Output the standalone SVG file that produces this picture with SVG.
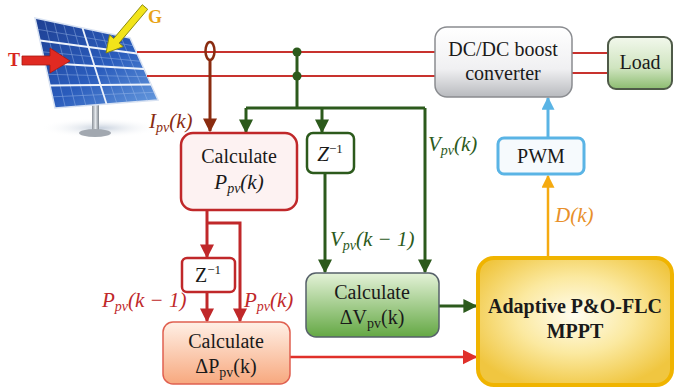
<svg xmlns="http://www.w3.org/2000/svg" width="678" height="389" viewBox="0 0 678 389">
  <defs>
    <style>
      .box { font-family: "Liberation Serif", "Times New Roman", serif; font-size: 20px; fill: #1a1a1a; text-anchor: middle; }
      .math { font-family: "Liberation Serif", "Times New Roman", serif; font-style: italic; font-size: 21px; }
      .sub { font-size: 14px; }
      .wire { fill: none; stroke: #c8322e; stroke-width: 1.8; }
      .red { fill: none; stroke: #c0282a; stroke-width: 3; }
      .green { fill: none; stroke: #2c5a1c; stroke-width: 3; }
      .brown { fill: none; stroke: #8a2c10; stroke-width: 3; }
      .cell { stroke: #a8c2ee; stroke-width: 0.6; opacity: 0.7; }
      .frame { stroke: #eef3fb; stroke-width: 1.8; }
    </style>
    <marker id="ahRed" viewBox="0 0 10 10" refX="9" refY="5" markerWidth="14" markerHeight="14" markerUnits="userSpaceOnUse" orient="auto">
      <path d="M0,0 L10,5 L0,10 z" fill="#c0282a"/>
    </marker>
    <marker id="ahRed2" viewBox="0 0 10 10" refX="9" refY="5" markerWidth="15" markerHeight="15" markerUnits="userSpaceOnUse" orient="auto">
      <path d="M0,0 L10,5 L0,10 z" fill="#e0302a"/>
    </marker>
    <marker id="ahGreen" viewBox="0 0 10 10" refX="9" refY="5" markerWidth="14" markerHeight="14" markerUnits="userSpaceOnUse" orient="auto">
      <path d="M0,0 L10,5 L0,10 z" fill="#2c5a1c"/>
    </marker>
    <marker id="ahBrown" viewBox="0 0 10 10" refX="9" refY="5" markerWidth="14" markerHeight="14" markerUnits="userSpaceOnUse" orient="auto">
      <path d="M0,0 L10,5 L0,10 z" fill="#8a2c10"/>
    </marker>
    <marker id="ahOrange" viewBox="0 0 10 10" refX="9" refY="5" markerWidth="13" markerHeight="13" markerUnits="userSpaceOnUse" orient="auto">
      <path d="M0,0 L10,5 L0,10 z" fill="#f5aa10"/>
    </marker>
    <marker id="ahBlue" viewBox="0 0 10 10" refX="9" refY="5" markerWidth="13" markerHeight="13" markerUnits="userSpaceOnUse" orient="auto">
      <path d="M0,0 L10,5 L0,10 z" fill="#5ab4e5"/>
    </marker>
    <linearGradient id="gPanel" x1="0" y1="0" x2="1" y2="1">
      <stop offset="0" stop-color="#1e3f92"/>
      <stop offset="0.55" stop-color="#2a5cbc"/>
      <stop offset="1" stop-color="#6a9ee0"/>
    </linearGradient>
    <linearGradient id="gPole" x1="0" y1="0" x2="1" y2="0">
      <stop offset="0" stop-color="#8a9098"/>
      <stop offset="0.5" stop-color="#e4e8ec"/>
      <stop offset="1" stop-color="#7d848c"/>
    </linearGradient>
    <radialGradient id="gShadow" cx="0.5" cy="0.5" r="0.5">
      <stop offset="0" stop-color="#b8c4d4" stop-opacity="0.8"/>
      <stop offset="1" stop-color="#ffffff" stop-opacity="0"/>
    </radialGradient>
    <linearGradient id="gDcdc" x1="0" y1="0" x2="0" y2="1">
      <stop offset="0" stop-color="#ffffff"/>
      <stop offset="0.6" stop-color="#f0f0f2"/>
      <stop offset="1" stop-color="#b8babe"/>
    </linearGradient>
    <linearGradient id="gLoad" x1="0" y1="0" x2="0" y2="1">
      <stop offset="0" stop-color="#f2f8ec"/>
      <stop offset="0.6" stop-color="#cfe4bf"/>
      <stop offset="1" stop-color="#8cbc70"/>
    </linearGradient>
    <linearGradient id="gDP" x1="0" y1="0" x2="0" y2="1">
      <stop offset="0" stop-color="#fff0e6"/>
      <stop offset="1" stop-color="#f7a87e"/>
    </linearGradient>
    <linearGradient id="gDV" x1="0" y1="0" x2="0" y2="1">
      <stop offset="0" stop-color="#e4f2d8"/>
      <stop offset="1" stop-color="#64a844"/>
    </linearGradient>
    <radialGradient id="gMppt" cx="0.5" cy="0.45" r="0.6">
      <stop offset="0" stop-color="#fffdf0"/>
      <stop offset="0.5" stop-color="#fbe9a0"/>
      <stop offset="1" stop-color="#f0c640"/>
    </radialGradient>
  </defs>

  <!-- PV array on its stand -->
  <g id="pv-panel">
    <ellipse cx="100" cy="128" rx="60" ry="10" fill="url(#gShadow)"/>
    <rect x="92" y="104" width="7" height="28" fill="url(#gPole)"/>
    <ellipse cx="95" cy="133" rx="16" ry="4" fill="#a2a8b0"/>
    <polygon points="35,18 130,38 158,100 55,108" fill="url(#gPanel)" stroke="#d8e2f2" stroke-width="1.5"/>
    <g class="cell">
      <line x1="44.5" y1="20" x2="65.3" y2="107.2"/>
      <line x1="54" y1="22" x2="75.6" y2="106.4"/>
      <line x1="63.5" y1="24" x2="85.9" y2="105.6"/>
      <line x1="73" y1="26" x2="96.2" y2="104.8"/>
      <line x1="92" y1="30" x2="116.8" y2="103.2"/>
      <line x1="101.5" y1="32" x2="127.1" y2="102.4"/>
      <line x1="111" y1="34" x2="137.4" y2="101.6"/>
      <line x1="120.5" y1="36" x2="147.7" y2="100.8"/>
      <line x1="37.5" y1="29.3" x2="133.5" y2="45.8"/>
      <line x1="42.5" y1="51.8" x2="140.5" y2="61.3"/>
      <line x1="47.5" y1="74.3" x2="147.5" y2="76.8"/>
      <line x1="52.5" y1="96.8" x2="154.5" y2="92.3"/>
    </g>
    <g class="frame">
      <line x1="82.5" y1="28" x2="106.5" y2="104"/>
      <line x1="40" y1="40.5" x2="137" y2="53.5"/>
      <line x1="45" y1="63" x2="144" y2="69"/>
      <line x1="50" y1="85.5" x2="151" y2="84.5"/>
    </g>
  </g>

  <!-- temperature and irradiance inputs -->
  <g id="input-T">
    <polygon points="22,56 50,56 50,48 70,61 50,73 50,65 22,65" fill="#e02a22" stroke="#a81810" stroke-width="0.8"/>
    <text x="8" y="66" font-family="Liberation Serif, serif" font-weight="bold" font-size="18" fill="#d8261e">T</text>
  </g>
  <g id="input-G">
    <polygon points="142.3,4.7 147.7,9.3 119.1,43.1 123.3,46.6 106,53 109.5,35 113.7,38.5" fill="#f2e41a" stroke="#8c8a10" stroke-width="1"/>
    <text x="148" y="23" font-family="Liberation Serif, serif" font-weight="bold" font-size="18" fill="#e8a317">G</text>
  </g>

  <!-- power wiring and connectors -->
  <g id="connectors">
    <line class="wire" x1="137" y1="52" x2="436" y2="52"/>
    <line class="wire" x1="147" y1="76" x2="436" y2="76"/>
    <line class="wire" x1="572" y1="53" x2="608" y2="53"/>
    <line class="wire" x1="572" y1="73" x2="608" y2="73"/>

    <!-- current sensor -->
    <ellipse cx="210" cy="51" rx="4.5" ry="9" fill="none" stroke="#8a2c10" stroke-width="2.5"/>
    <line class="brown" x1="210" y1="60" x2="210" y2="131" marker-end="url(#ahBrown)"/>

    <!-- voltage sensing -->
    <circle cx="297" cy="52" r="4.5" fill="#2c5a1c"/>
    <circle cx="297" cy="76" r="4.5" fill="#2c5a1c"/>
    <line class="green" x1="297" y1="52" x2="297" y2="108"/>
    <polyline class="green" points="246,108 425,108"/>
    <line class="green" x1="246" y1="108" x2="246" y2="132" marker-end="url(#ahGreen)"/>
    <line class="green" x1="322" y1="108" x2="322" y2="132" marker-end="url(#ahGreen)"/>
    <line class="green" x1="425" y1="108" x2="425" y2="272" marker-end="url(#ahGreen)"/>
    <line class="green" x1="325" y1="173" x2="325" y2="272" marker-end="url(#ahGreen)"/>

    <!-- power branch -->
    <line class="red" x1="207" y1="210" x2="207" y2="257" marker-end="url(#ahRed)"/>
    <polyline class="red" points="207,223 240,223 240,321" marker-end="url(#ahRed)"/>
    <line class="red" x1="207" y1="292" x2="207" y2="321" marker-end="url(#ahRed)"/>

    <!-- into the MPPT block -->
    <line x1="290" y1="357" x2="476" y2="357" stroke="#e0302a" stroke-width="2.5" marker-end="url(#ahRed2)"/>
    <line class="green" x1="439" y1="306" x2="476" y2="306" marker-end="url(#ahGreen)"/>

    <!-- duty cycle and gate signal -->
    <line x1="548" y1="258" x2="548" y2="176" stroke="#f5aa10" stroke-width="2.5" marker-end="url(#ahOrange)"/>
    <line x1="548" y1="138" x2="548" y2="98" stroke="#5ab4e5" stroke-width="3" marker-end="url(#ahBlue)"/>

    <!-- signal labels -->
    <text class="math" x="149" y="128" fill="#8a2c10">I<tspan class="sub" dy="4">pv</tspan><tspan dy="-4">(k)</tspan></text>
    <text class="math" x="428" y="151" fill="#2c5a1c">V<tspan class="sub" dy="4">pv</tspan><tspan dy="-4">(k)</tspan></text>
    <text class="math" x="330" y="246" fill="#2c5a1c">V<tspan class="sub" dy="4">pv</tspan><tspan dy="-4">(k − 1)</tspan></text>
    <text class="math" x="102" y="307" fill="#c0282a">P<tspan class="sub" dy="4">pv</tspan><tspan dy="-4">(k − 1)</tspan></text>
    <text class="math" x="244" y="307" fill="#c0282a">P<tspan class="sub" dy="4">pv</tspan><tspan dy="-4">(k)</tspan></text>
    <text class="math" x="555" y="222" fill="#e8902a">D(k)</text>
  </g>

  <g id="dcdc">
    <rect x="435" y="27" width="137" height="70" rx="12" fill="url(#gDcdc)" stroke="#8a8c90" stroke-width="1.5"/>
    <text class="box" x="503" y="56">DC/DC boost</text>
    <text class="box" x="503" y="80">converter</text>
  </g>

  <g id="load">
    <rect x="608" y="37" width="64" height="52" rx="8" fill="url(#gLoad)" stroke="#4e5a48" stroke-width="2"/>
    <text class="box" x="640" y="69">Load</text>
  </g>

  <g id="pwm">
    <rect x="498" y="138" width="86" height="36" rx="6" fill="#f6fafd" stroke="#5ab4e5" stroke-width="3"/>
    <text class="box" x="541" y="163">PWM</text>
  </g>

  <g id="calc-ppv">
    <rect x="181" y="133" width="116" height="77" rx="12" fill="#fdf2f2" stroke="#c0282a" stroke-width="2.5"/>
    <text class="box" x="239" y="163">Calculate</text>
    <text class="math" x="239" y="189" text-anchor="middle" fill="#1a1a1a">P<tspan class="sub" dy="4">pv</tspan><tspan dy="-4">(k)</tspan></text>
  </g>

  <g id="delay-v">
    <rect x="307" y="133" width="47" height="40" rx="6" fill="#ffffff" stroke="#2c5a1c" stroke-width="2.5"/>
    <text class="math" x="330" y="161" text-anchor="middle" fill="#1a1a1a" font-size="19">Z<tspan font-style="normal" font-size="13" dy="-8">−1</tspan></text>
  </g>

  <g id="delay-p">
    <rect x="182" y="258" width="53" height="34" rx="5" fill="#ffffff" stroke="#c0282a" stroke-width="2.5"/>
    <text class="box" x="208" y="282" font-size="18">Z<tspan font-size="13" dy="-8">−1</tspan></text>
  </g>

  <g id="calc-dp">
    <rect x="163" y="322" width="127" height="62" rx="10" fill="url(#gDP)" stroke="#e06050" stroke-width="1.5"/>
    <text class="box" x="226" y="348">Calculate</text>
    <text class="box" x="226" y="373">ΔP<tspan class="sub" dy="4">pv</tspan><tspan dy="-4">(k)</tspan></text>
  </g>

  <g id="calc-dv">
    <rect x="306" y="273" width="133" height="64" rx="10" fill="url(#gDV)" stroke="#56606a" stroke-width="1.5"/>
    <text class="box" x="372" y="299">Calculate</text>
    <text class="box" x="372" y="324">ΔV<tspan class="sub" dy="4">pv</tspan><tspan dy="-4">(k)</tspan></text>
  </g>

  <g id="mppt">
    <rect x="478" y="258" width="194" height="127" rx="16" fill="url(#gMppt)" stroke="#f0b400" stroke-width="4"/>
    <text class="box" x="575" y="313" font-weight="bold" fill="#1f2a6e">Adaptive P&amp;O-FLC</text>
    <text class="box" x="575" y="338" font-weight="bold" fill="#1f2a6e">MPPT</text>
  </g>
</svg>
